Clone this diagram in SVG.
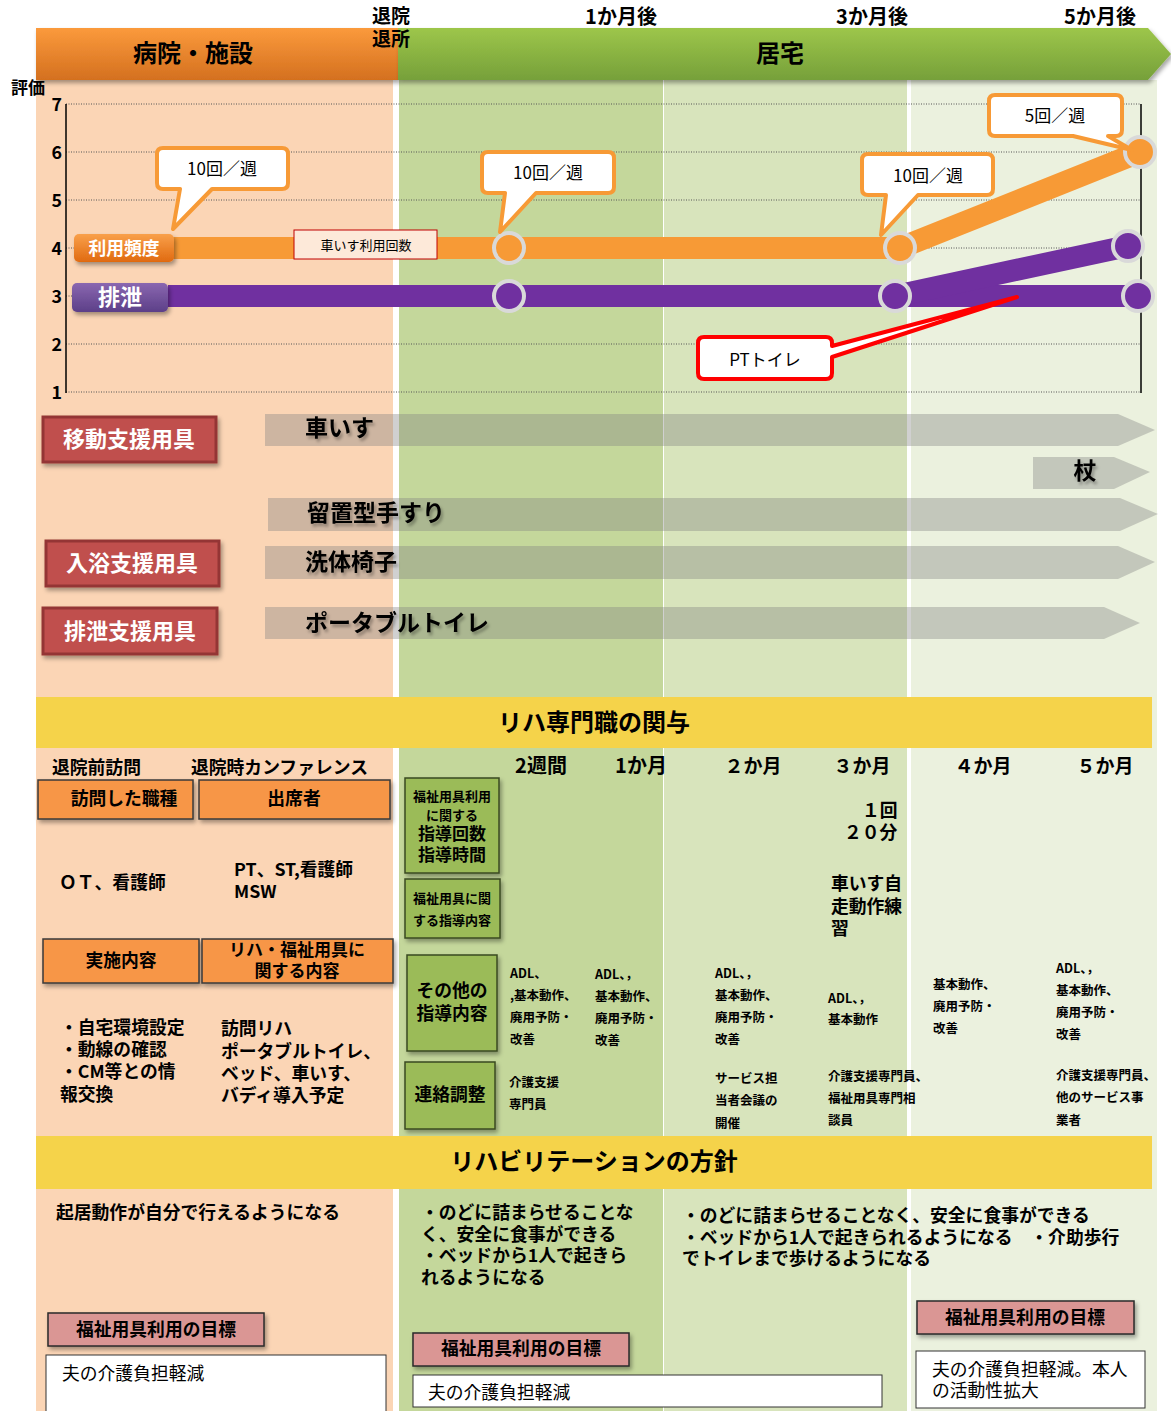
<svg xmlns="http://www.w3.org/2000/svg" width="1171" height="1411" viewBox="0 0 1171 1411">
<style>
text{font-family:"Noto Sans CJK JP","Noto Sans",sans-serif;dominant-baseline:central;fill:#000}
.b{font-weight:bold}
.c{text-anchor:middle}
.e{text-anchor:end}
.w{fill:#fff}
.grid{stroke:#555;stroke-width:1;stroke-dasharray:1 1.5}
.arr{fill:#7f7f7f;fill-opacity:.37}
.callo{fill:#fff;stroke:#f79a36;stroke-width:4;stroke-linejoin:round}
.redlbl{fill:#c0504d;stroke:#943634;stroke-width:3}
.orbox{fill:#f79646;stroke:#3a3a3a;stroke-width:1.5}
.grbox{fill:#9bbb59;stroke:#3a4a20;stroke-width:1.5}
.pkbox{fill:#da9694;stroke:#2a2a2a;stroke-width:1.5}
.wbox{fill:#fff;stroke:#333;stroke-width:1}
.ocirc{fill:#f79a36;stroke:#d9d9d9;stroke-width:4}
.pcirc{fill:#7030a0;stroke:#d9d9d9;stroke-width:4}
.t12{font-size:12.5px}
.t13{font-size:13px}
.t17{font-size:17px}
.t18{font-size:17.8px}
.t19{font-size:19px}
.t20{font-size:20px}
.t22{font-size:22px}
.t23{font-size:23px}
.t24{font-size:24px}
</style>
<defs>
<linearGradient id="gO" x1="0" y1="0" x2="0" y2="1"><stop offset="0" stop-color="#fb9a3c"/><stop offset="1" stop-color="#d4701f"/></linearGradient>
<linearGradient id="gG" x1="0" y1="0" x2="0" y2="1"><stop offset="0" stop-color="#9dc64a"/><stop offset="1" stop-color="#76a03a"/></linearGradient>
<linearGradient id="gLO" x1="0" y1="0" x2="0" y2="1"><stop offset="0" stop-color="#f9a04a"/><stop offset="1" stop-color="#e06a10"/></linearGradient>
<linearGradient id="gLP" x1="0" y1="0" x2="0" y2="1"><stop offset="0" stop-color="#8a67b0"/><stop offset="1" stop-color="#5c3f88"/></linearGradient>
<filter id="sh" x="-10%" y="-20%" width="130%" height="160%"><feDropShadow dx="2" dy="3" stdDeviation="2" flood-color="#000" flood-opacity="0.35"/></filter>
<filter id="tsh" x="-10%" y="-20%" width="130%" height="160%"><feDropShadow dx="2" dy="3" stdDeviation="1.5" flood-color="#000" flood-opacity="0.3"/></filter>
</defs>

<!-- column backgrounds -->
<g id="background">
<rect x="0" y="0" width="1171" height="1411" fill="#fff"/>
<rect x="36" y="80" width="357" height="1331" fill="#fbd5b5"/>
<rect x="399" y="80" width="264" height="1331" fill="#c4d79b"/>
<rect x="664" y="80" width="243" height="1331" fill="#d8e4bc"/>
<rect x="911" y="80" width="246" height="1331" fill="#ebf1de"/>
</g>

<!-- header -->
<g id="header-hospital" filter="url(#sh)">
<rect x="36" y="28" width="362" height="52" fill="url(#gO)"/>
</g>
<text class="b c t24" x="193" y="51">病院・施設</text>
<g id="header-home" filter="url(#sh)">
<path d="M398,28 H1148 L1171,54 L1148,80 H398 Z" fill="url(#gG)"/>
</g>
<text class="b c t24" x="780" y="51">居宅</text>
<g id="time-labels">
<text class="b c t19" x="391" y="14">退院</text>
<text class="b c t19" x="391" y="37">退所</text>
<text class="b c t20" x="621" y="15">1か月後</text>
<text class="b c t20" x="872" y="15">3か月後</text>
<text class="b c t20" x="1100" y="15">5か月後</text>
</g>

<!-- chart -->
<g id="chart-axes">
<text class="b c t17" x="28" y="86">評価</text>
<line class="grid" x1="66" y1="104" x2="1141" y2="104"/>
<line class="grid" x1="66" y1="152" x2="1141" y2="152"/>
<line class="grid" x1="66" y1="200" x2="1141" y2="200"/>
<line class="grid" x1="66" y1="248" x2="1141" y2="248"/>
<line class="grid" x1="66" y1="296" x2="1141" y2="296"/>
<line class="grid" x1="66" y1="344" x2="1141" y2="344"/>
<line class="grid" x1="66" y1="392" x2="1141" y2="392"/>
<line x1="66" y1="104" x2="66" y2="393" stroke="#000" stroke-width="1.5"/>
<line x1="1141" y1="104" x2="1141" y2="393" stroke="#000" stroke-width="1.5"/>
<text class="b e t18" x="62" y="103">7</text>
<text class="b e t18" x="62" y="151">6</text>
<text class="b e t18" x="62" y="199">5</text>
<text class="b e t18" x="62" y="247">4</text>
<text class="b e t18" x="62" y="295">3</text>
<text class="b e t18" x="62" y="343">2</text>
<text class="b e t18" x="62" y="391">1</text>
</g>

<g id="connectors">
<polyline points="170,248 900,248 1140,152" fill="none" stroke="#f79a36" stroke-width="22" stroke-linejoin="round"/>
<polyline points="168,296 1138,296" fill="none" stroke="#7030a0" stroke-width="22"/>
<polyline points="895,296 1128,246" fill="none" stroke="#7030a0" stroke-width="22"/>
</g>

<g id="chart-points">
<circle class="ocirc" cx="509" cy="248" r="15"/>
<circle class="ocirc" cx="900" cy="248" r="15"/>
<circle class="ocirc" cx="1140" cy="152" r="15"/>
<circle class="pcirc" cx="509" cy="296" r="15"/>
<circle class="pcirc" cx="895" cy="296" r="15"/>
<circle class="pcirc" cx="1128" cy="246" r="15"/>
<circle class="pcirc" cx="1138" cy="296" r="15"/>
</g>

<g id="label-frequency" filter="url(#sh)">
<rect x="74" y="234" width="100" height="28" rx="5" fill="url(#gLO)"/>
</g>
<text class="b c t18 w" x="124" y="247">利用頻度</text>
<g id="label-excretion" filter="url(#sh)">
<rect x="72" y="283" width="96" height="29" rx="5" fill="url(#gLP)"/>
</g>
<text class="b c t22 w" x="120" y="295">排泄</text>

<g id="wheelchair-count">
<rect x="294" y="230" width="143" height="29" fill="#fde9d9" stroke="#c00000" stroke-width="1"/>
<text class="c t13" x="366" y="244">車いす利用回数</text>
</g>

<g id="callout-1">
<path class="callo" d="M163,148 H282 Q288,148 288,154 V183 Q288,189 282,189 H212 L173,229 L180,189 H163 Q157,189 157,183 V154 Q157,148 163,148 Z"/>
<text class="c t17" x="222" y="167">10回／週</text>
</g>
<g id="callout-2">
<path class="callo" d="M488,152 H608 Q614,152 614,158 V187 Q614,193 608,193 H536 L500,232 L505,193 H488 Q482,193 482,187 V158 Q482,152 488,152 Z"/>
<text class="c t17" x="548" y="171">10回／週</text>
</g>
<g id="callout-3">
<path class="callo" d="M868,154 H987 Q993,154 993,160 V189 Q993,195 987,195 H918 L881,235 L886,195 H868 Q862,195 862,189 V160 Q862,154 868,154 Z"/>
<text class="c t17" x="928" y="174">10回／週</text>
</g>
<g id="callout-4">
<path class="callo" d="M995,95 H1116 Q1122,95 1122,101 V130 Q1122,136 1116,136 H1108 L1132,150 L1073,136 H995 Q989,136 989,130 V101 Q989,95 995,95 Z"/>
<text class="c t17" x="1055" y="114">5回／週</text>
</g>
<g id="callout-pt">
<path d="M704,337 H826 Q832,337 832,343 V346 L1017,297 L832,357 V373 Q832,379 826,379 H704 Q698,379 698,373 V343 Q698,337 704,337 Z" fill="#fff" stroke="#ff0000" stroke-width="4" stroke-linejoin="round"/>
<text class="c t17" x="765" y="358">PTトイレ</text>
</g>

<!-- equipment -->
<g id="equip-mobility">
<rect class="redlbl" x="43" y="417" width="173" height="45" filter="url(#sh)"/>
<text class="b c t22 w" x="129" y="437">移動支援用具</text>
</g>
<g id="equip-bath">
<rect class="redlbl" x="46" y="541" width="173" height="45" filter="url(#sh)"/>
<text class="b c t22 w" x="132" y="561">入浴支援用具</text>
</g>
<g id="equip-excretion">
<rect class="redlbl" x="43" y="608" width="174" height="46" filter="url(#sh)"/>
<text class="b c t22 w" x="130" y="629">排泄支援用具</text>
</g>

<g id="arrow-wheelchair">
<path class="arr" d="M265,414 H1118 L1155,430 L1118,446 H265 Z"/>
<text class="b t23" x="305" y="426" filter="url(#tsh)">車いす</text>
</g>
<g id="arrow-cane">
<path class="arr" d="M1033,457 H1114 L1150,472 L1114,489 H1033 Z"/>
<text class="b c t23" x="1085" y="469" filter="url(#tsh)">杖</text>
</g>
<g id="arrow-handrail">
<path class="arr" d="M268,498 H1120 L1158,514 L1120,531 H268 Z"/>
<text class="b t23" x="307" y="511" filter="url(#tsh)">留置型手すり</text>
</g>
<g id="arrow-bathchair">
<path class="arr" d="M265,546 H1118 L1155,562 L1118,579 H265 Z"/>
<text class="b t23" x="305" y="560" filter="url(#tsh)">洗体椅子</text>
</g>
<g id="arrow-toilet">
<path class="arr" d="M265,607 H1104 L1140,623 L1104,639 H265 Z"/>
<text class="b t23" x="305" y="621" filter="url(#tsh)">ポータブルトイレ</text>
</g>

<!-- section: rehab involvement -->
<g id="band-involvement">
<rect x="36" y="697" width="1116" height="51" fill="#f5d34a"/>
<text class="b c t24" x="594" y="720">リハ専門職の関与</text>
</g>

<g id="pre-visit">
<text class="b t18" x="52" y="766">退院前訪問</text>
<text class="b t18" x="191" y="766">退院時カンファレンス</text>
<rect class="orbox" x="38" y="780" width="155" height="39" filter="url(#sh)"/>
<text class="b c t18" x="124" y="797">訪問した職種</text>
<rect class="orbox" x="199" y="780" width="191" height="39" filter="url(#sh)"/>
<text class="b c t18" x="294" y="797">出席者</text>
<text class="b t18" x="59" y="881">ＯＴ、看護師</text>
<text class="b t18" x="234" y="868">PT、ST,看護師</text>
<text class="b t18" x="234" y="890">MSW</text>
<rect class="orbox" x="43" y="939" width="156" height="44" filter="url(#sh)"/>
<text class="b c t18" x="121" y="959">実施内容</text>
<rect class="orbox" x="202" y="939" width="191" height="44" filter="url(#sh)"/>
<text class="b c t17" x="297" y="948">リハ・福祉用具に</text>
<text class="b c t17" x="297" y="969">関する内容</text>
<text class="b t18" x="60" y="1026">・自宅環境設定</text>
<text class="b t18" x="60" y="1048">・動線の確認</text>
<text class="b t18" x="60" y="1070">・CM等との情</text>
<text class="b t18" x="60" y="1093">報交換</text>
<text class="b t18" x="221" y="1027">訪問リハ</text>
<text class="b t18" x="221" y="1050">ポータブルトイレ、</text>
<text class="b t18" x="221" y="1072">ベッド、車いす、</text>
<text class="b t18" x="221" y="1094">バディ導入予定</text>
</g>

<g id="guide-count">
<rect class="grbox" x="405" y="778" width="94" height="95" filter="url(#sh)"/>
<text class="b c t13" x="452" y="795">福祉用具利用</text>
<text class="b c t13" x="452" y="814">に関する</text>
<text class="b c t17" x="452" y="832">指導回数</text>
<text class="b c t17" x="452" y="853">指導時間</text>
</g>
<g id="guide-content">
<rect class="grbox" x="405" y="879" width="95" height="59" filter="url(#sh)"/>
<text class="b c t13" x="452" y="897">福祉用具に関</text>
<text class="b c t13" x="452" y="919">する指導内容</text>
</g>
<g id="guide-other">
<rect class="grbox" x="407" y="955" width="90" height="96" filter="url(#sh)"/>
<text class="b c t18" x="452" y="989">その他の</text>
<text class="b c t18" x="452" y="1012">指導内容</text>
</g>
<g id="guide-liaison">
<rect class="grbox" x="405" y="1062" width="90" height="67" filter="url(#sh)"/>
<text class="b c t18" x="450" y="1093">連絡調整</text>
</g>

<g id="period-headers">
<text class="b c t20" x="541" y="764">2週間</text>
<text class="b c t20" x="641" y="764">1か月</text>
<text class="b c t19" x="753" y="764">２か月</text>
<text class="b c t19" x="862" y="764">３か月</text>
<text class="b c t19" x="983" y="764">４か月</text>
<text class="b c t19" x="1105" y="764">５か月</text>
</g>

<g id="month3-guidance">
<text class="b t18" x="862" y="809">１回</text>
<text class="b t18" x="844" y="831">２０分</text>
<text class="b t18" x="831" y="882">車いす自</text>
<text class="b t18" x="831" y="905">走動作練</text>
<text class="b t18" x="831" y="927">習</text>
</g>

<g id="other-guidance">
<text class="b t12" x="510" y="972">ADL、</text>
<text class="b t12" x="510" y="994">,基本動作、</text>
<text class="b t12" x="510" y="1016">廃用予防・</text>
<text class="b t12" x="510" y="1038">改善</text>
<text class="b t12" x="595" y="973">ADL、，</text>
<text class="b t12" x="595" y="995">基本動作、</text>
<text class="b t12" x="595" y="1017">廃用予防・</text>
<text class="b t12" x="595" y="1039">改善</text>
<text class="b t12" x="715" y="972">ADL、，</text>
<text class="b t12" x="715" y="994">基本動作、</text>
<text class="b t12" x="715" y="1016">廃用予防・</text>
<text class="b t12" x="715" y="1038">改善</text>
<text class="b t12" x="828" y="997">ADL、，</text>
<text class="b t12" x="828" y="1018">基本動作</text>
<text class="b t12" x="933" y="983">基本動作、</text>
<text class="b t12" x="933" y="1005">廃用予防・</text>
<text class="b t12" x="933" y="1027">改善</text>
<text class="b t12" x="1056" y="967">ADL、，</text>
<text class="b t12" x="1056" y="989">基本動作、</text>
<text class="b t12" x="1056" y="1011">廃用予防・</text>
<text class="b t12" x="1056" y="1033">改善</text>
</g>

<g id="liaison-items">
<text class="b t12" x="509" y="1081">介護支援</text>
<text class="b t12" x="509" y="1103">専門員</text>
<text class="b t12" x="715" y="1077">サービス担</text>
<text class="b t12" x="715" y="1099">当者会議の</text>
<text class="b t12" x="715" y="1122">開催</text>
<text class="b t12" x="828" y="1075">介護支援専門員、</text>
<text class="b t12" x="828" y="1097">福祉用具専門相</text>
<text class="b t12" x="828" y="1119">談員</text>
<text class="b t12" x="1056" y="1074">介護支援専門員、</text>
<text class="b t12" x="1056" y="1096">他のサービス事</text>
<text class="b t12" x="1056" y="1119">業者</text>
</g>

<!-- section: rehab policy -->
<g id="band-policy">
<rect x="36" y="1136" width="1116" height="53" fill="#f5d34a"/>
<text class="b c t24" x="594" y="1159">リハビリテーションの方針</text>
</g>

<g id="policy-texts">
<text class="b t18" x="56" y="1211">起居動作が自分で行えるようになる</text>
<text class="b t18" x="421" y="1211">・のどに詰まらせることな</text>
<text class="b t18" x="421" y="1233">く、安全に食事ができる</text>
<text class="b t18" x="421" y="1254">・ベッドから1人で起きら</text>
<text class="b t18" x="421" y="1276">れるようになる</text>
<text class="b t18" x="682" y="1214">・のどに詰まらせることなく、安全に食事ができる</text>
<text class="b t18" x="682" y="1236">・ベッドから1人で起きられるようになる　・介助歩行</text>
<text class="b t18" x="682" y="1257">でトイレまで歩けるようになる</text>
</g>

<g id="goal-1">
<rect class="pkbox" x="48" y="1313" width="216" height="33" filter="url(#sh)"/>
<text class="b c t18" x="156" y="1328">福祉用具利用の目標</text>
<rect class="wbox" x="46" y="1355" width="340" height="60"/>
<text class="t18" x="62" y="1372">夫の介護負担軽減</text>
</g>
<g id="goal-2">
<rect class="pkbox" x="413" y="1333" width="216" height="33" filter="url(#sh)"/>
<text class="b c t18" x="521" y="1347">福祉用具利用の目標</text>
<rect class="wbox" x="413" y="1375" width="469" height="32"/>
<text class="t18" x="428" y="1391">夫の介護負担軽減</text>
</g>
<g id="goal-3">
<rect class="pkbox" x="917" y="1301" width="217" height="33" filter="url(#sh)"/>
<text class="b c t18" x="1025" y="1316">福祉用具利用の目標</text>
<rect class="wbox" x="916" y="1351" width="229" height="57"/>
<text class="t18" x="932" y="1368">夫の介護負担軽減。本人</text>
<text class="t18" x="932" y="1389">の活動性拡大</text>
</g>
</svg>
